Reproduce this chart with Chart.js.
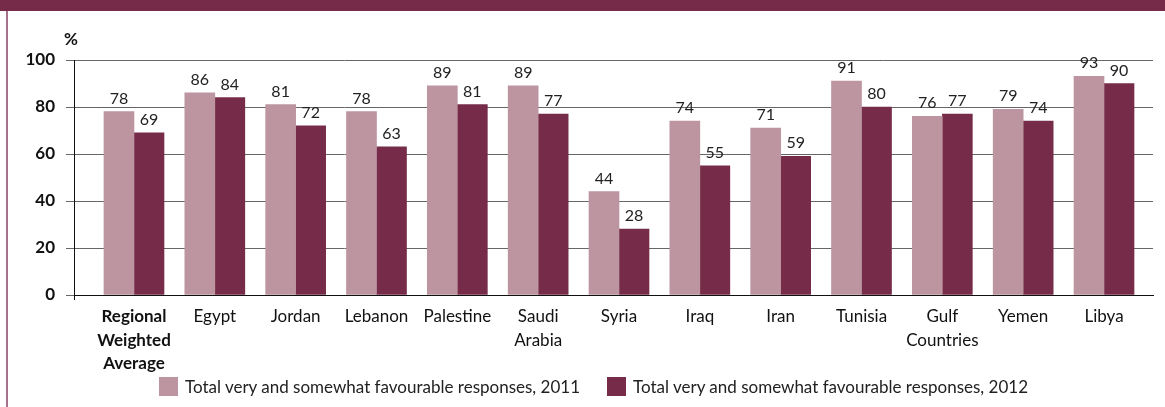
<!DOCTYPE html>
<html>
<head>
<meta charset="utf-8">
<script src="https://cdn.jsdelivr.net/npm/chart.js@4"></script>
<style>
  html, body { margin: 0; padding: 0; background: #fff; }
  #wrap { position: relative; width: 1165px; height: 407px; overflow: hidden; font-family: Lato, sans-serif; }
  #banner { position: absolute; left: 0; top: 0; width: 1165px; height: 11px; background: #762C48; }
  #rule { position: absolute; left: 6px; top: 11px; width: 2px; height: 396px; background: #A8718A; }
  canvas { position: absolute; left: 0; top: 0; }
  #legend { position: absolute; left: 0; top: 377px; width: 1187px; display: flex; justify-content: center; }
  #legend ul { list-style: none; margin: 0; padding: 0; display: flex; gap: 27px; }
  #legend li { display: flex; align-items: center; height: 19px; font-size: 17px; color: #222; white-space: nowrap; }
  #legend .swatch { width: 19px; height: 19px; margin-right: 7px; flex: none; }
</style>
</head>
<body>
<div id="wrap">
  <canvas id="chart" width="1165" height="407"></canvas>
  <div id="banner"></div>
  <div id="rule"></div>
  <div id="legend"></div>
</div>
<script>
// Country groups along the x axis (arrays wrap onto several lines)
const categories = [
  ['Regional', 'Weighted', 'Average'], 'Egypt', 'Jordan', 'Lebanon', 'Palestine',
  ['Saudi', 'Arabia'], 'Syria', 'Iraq', 'Iran', 'Tunisia', ['Gulf', 'Countries'], 'Yemen', 'Libya'
];
// Share of very and somewhat favourable responses, %
const favourable2011 = [78, 86, 81, 78, 89, 89, 44, 74, 71, 91, 76, 79, 93];
const favourable2012 = [69, 84, 72, 63, 81, 77, 28, 55, 59, 80, 77, 74, 90];
const seriesNames = [
  'Total very and somewhat favourable responses, 2011',
  'Total very and somewhat favourable responses, 2012'
];
const yTicks = [0, 20, 40, 60, 80, 100];

const LIGHT = '#BC95A1';
const DARK = '#762C48';
const FONT = 'Lato';

// Extra room on both sides of the group row: the y axis sits left of the first group
const X_MIN = -0.742;
const X_MAX = 12.606;

const toPoints = values => values.map((v, i) => ({ x: i, y: v }));

// Numbers above each bar
const valueLabels = {
  id: 'valueLabels',
  afterDatasetsDraw(chart) {
    const ctx = chart.ctx;
    ctx.save();
    ctx.font = '16px ' + FONT;
    ctx.fillStyle = '#222';
    ctx.textAlign = 'center';
    ctx.textBaseline = 'alphabetic';
    chart.data.datasets.forEach((ds, di) => {
      chart.getDatasetMeta(di).data.forEach((bar, i) => {
        ctx.fillText(String(ds.data[i].y), bar.x, bar.y - 8);
      });
    });
    ctx.restore();
  }
};

// Unit mark above the value axis
const unitMark = {
  id: 'unitMark',
  afterDraw(chart) {
    const ctx = chart.ctx;
    const area = chart.chartArea;
    ctx.save();
    ctx.font = 'bold 17px ' + FONT;
    ctx.fillStyle = '#111';
    ctx.textAlign = 'center';
    ctx.textBaseline = 'alphabetic';
    ctx.fillText('%', area.left - 3, area.top - 15);
    ctx.restore();
  }
};

// Legend rendered as HTML from the chart's own legend items
const htmlLegend = {
  id: 'htmlLegend',
  afterUpdate(chart) {
    const host = document.getElementById('legend');
    host.innerHTML = '';
    const list = document.createElement('ul');
    const items = chart.options.plugins.legend.labels.generateLabels(chart);
    items.forEach(item => {
      const li = document.createElement('li');
      const sw = document.createElement('span');
      sw.className = 'swatch';
      sw.style.background = item.fillStyle;
      const txt = document.createElement('span');
      txt.textContent = item.text;
      li.appendChild(sw);
      li.appendChild(txt);
      list.appendChild(li);
    });
    host.appendChild(list);
  }
};

Chart.defaults.font.family = FONT;

new Chart(document.getElementById('chart'), {
  type: 'bar',
  data: {
    datasets: [
      { label: seriesNames[0], data: toPoints(favourable2011), backgroundColor: LIGHT, barThickness: 30 },
      { label: seriesNames[1], data: toPoints(favourable2012), backgroundColor: DARK, barThickness: 30 }
    ]
  },
  options: {
    responsive: false,
    animation: false,
    events: [],
    layout: { padding: { left: 0, right: 12, top: 60, bottom: 32 } },
    scales: {
      x: {
        type: 'linear',
        min: X_MIN,
        max: X_MAX,
        offset: false,
        afterBuildTicks: s => {
          s.ticks = [{ value: X_MIN }].concat(categories.map((_, i) => ({ value: i })));
        },
        afterFit: s => { s.height = 80; },
        grid: {
          offset: false,
          drawOnChartArea: false,
          tickLength: 5,
          color: c => (c.index === 0 ? '#111' : 'rgba(0,0,0,0)')
        },
        border: { display: true, color: '#111', width: 1 },
        ticks: {
          autoSkip: false,
          maxRotation: 0,
          minRotation: 0,
          padding: 5,
          color: '#111',
          font: c => ({
            family: FONT,
            size: 17,
            lineHeight: 1.38,
            weight: c.tick && c.tick.value === 0 ? 'bold' : 'normal'
          }),
          callback: v => (Number.isInteger(v) && categories[v] !== undefined ? categories[v] : '')
        }
      },
      y: {
        min: 0,
        max: 100,
        afterBuildTicks: s => { s.ticks = yTicks.map(v => ({ value: v })); },
        afterFit: s => { s.width = 74; },
        grid: { color: '#666', lineWidth: 1, tickLength: 8 },
        border: { display: true, color: '#111', width: 1 },
        ticks: {
          padding: 11,
          color: '#111',
          font: { family: FONT, size: 17, weight: 'bold' }
        }
      }
    },
    plugins: {
      tooltip: { enabled: false },
      legend: { display: false }
    }
  },
  plugins: [valueLabels, unitMark, htmlLegend]
});
</script>
</body>
</html>
